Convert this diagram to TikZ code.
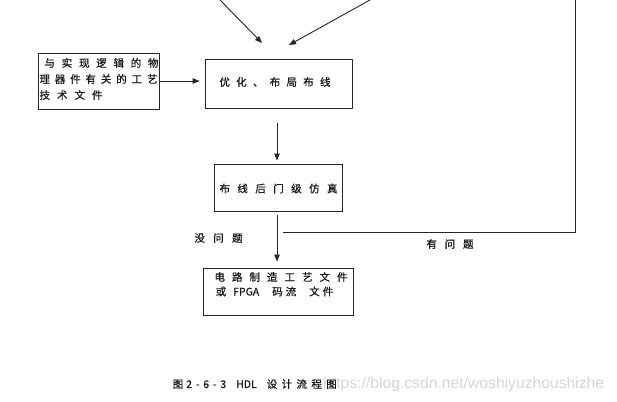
\documentclass[tikz,border=0pt]{standalone}
\usepackage{fontspec}
\setmainfont{Noto Sans CJK SC}[FakeBold=0.7]
\newfontfamily\wmfont{Liberation Sans}
\usetikzlibrary{arrows.meta}
\makeatletter
\newcommand\spr[2]{\makebox[#1][s]{\def\sprsep{}\@tfor\sprch:=#2\do{\sprsep\sprch\def\sprsep{\hfil}}}}
\makeatother
\begin{document}
\begin{tikzpicture}[x=1pt,y=-1pt,
  box/.style={draw=black!85, line width=0.9pt, inner sep=0pt},
  conn/.style={draw=black!85, line width=0.9pt, -{Triangle[length=7pt,width=5.5pt]}},
  plain/.style={draw=black!85, line width=0.9pt},
  txt/.style={inner sep=0pt, text=black!90, font=\fontsize{10.5}{12}\selectfont}]
\useasboundingbox (0,0) rectangle (617,401);
\fill[white] (0,0) rectangle (617,401);

% boxes
\node[box, minimum width=121pt, minimum height=56pt] (tech) at (98.5,81) {};
\node[box, minimum width=147pt, minimum height=49pt] (route) at (278.5,83.5) {};
\node[box, minimum width=128pt, minimum height=47pt] (sim) at (278,187.5) {};
\node[box, minimum width=150pt, minimum height=47pt] (out) at (278,291.5) {};

% texts
\node[txt] (t1) at (101.5,63) {\spr{114pt}{与实现逻辑的物}};
\node[txt] (t2) at (98.5,79) {\spr{118pt}{理器件有关的工艺}};
\node[txt] (t3) at (71,95) {\spr{63pt}{技术文件}};
\node[txt] (t4) at (275,82) {\spr{111pt}{优化、布局布线}};
\node[txt] (t5) at (278.5,188.5) {\spr{118pt}{布线后门级仿真}};
\node[txt] (t6) at (281,277) {\spr{133pt}{电路制造工艺文件}};
\node[txt, anchor=west] (t7) at (215.5,291.5) {或\hspace{7pt}FPGA\hspace{13pt}码\hspace{3pt}流\hspace{13pt}文\hspace{3pt}件};
\node[txt] (ok) at (218.5,238) {\spr{48pt}{没问题}};
\node[txt] (bad) at (450,244) {\spr{47pt}{有问题}};

% watermark and caption
\node[inner sep=0pt, anchor=west, text=black!16, font=\wmfont\fontsize{15.7}{18}\selectfont] (wm) at (323,384) {https://blog.csdn.net/woshiyuzhoushizhe};
\node[txt, anchor=west] (cap) at (172.5,384) {图\hspace{3pt}\makebox[40pt][s]{2\hfil-\hfil6\hfil-\hfil3}\hspace{10pt}HDL\hspace{10pt}\spr{70pt}{设计流程图}};

% connectors
\coordinate (a1s) at (220,0);
\coordinate (a1e) at (262,43);
\coordinate (a2s) at (370,0);
\coordinate (a2e) at (289,45);
\coordinate (ax) at (277,0);
\draw[conn] (a1s) -- (a1e);
\draw[conn] (a2s) -- (a2e);
\draw[conn, shorten >=5pt] (tech.east) -- (tech.east -| route.west);
\draw[conn, shorten <=15pt, shorten >=3pt] (route.south -| ax) -- (sim.north -| ax);
\draw[conn, shorten <=4pt, shorten >=6pt] (sim.south -| ax) -- (out.north -| ax);

\coordinate (fb1) at (283,232);
\coordinate (fb3) at (575,0);
\draw[plain] (fb1) -| (fb3);
\end{tikzpicture}
\end{document}
